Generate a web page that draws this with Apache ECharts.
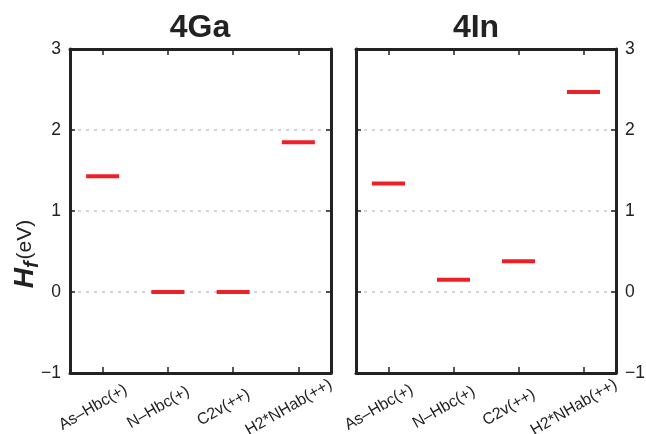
<!DOCTYPE html>
<html>
<head>
<meta charset="utf-8">
<script src="https://cdn.jsdelivr.net/npm/echarts@6/dist/echarts.min.js"></script>
<style>
  html, body { margin: 0; padding: 0; background: #fff; }
  #chart { width: 646px; height: 434px; }
</style>
</head>
<body>
<div id="chart"></div>
<script>
// categories and formation energies (eV)
const categories = ['As\u2013Hbc(+)', 'N\u2013Hbc(+)', 'C2v(++)', 'H2*NHab(++)']
const gaValues = [1.43, 0.0, 0.0, 1.85]
const inValues = [1.34, 0.15, 0.38, 2.47]
const panelTitles = ['4Ga', '4In']
const yMin = -1
const yMax = 3
const yStep = 1

const FONT = '"Liberation Sans", Arial, Helvetica, sans-serif'
const INK = '#222'
const RED = '#ee1f26'

function fmtY (v) {
    return v < 0 ? '\u2212' + Math.abs(v) : String(v)
}

// one y axis; showLabels decides if it carries numbers, grid lines on one side only
function yAxisFor (gridIndex, position, showLabels, showSplit) {
    return {
        type: 'value',
        gridIndex: gridIndex,
        position: position,
        min: yMin,
        max: yMax,
        interval: yStep,
        axisLine: { show: true, onZero: false, lineStyle: { color: INK, width: 3 } },
        axisTick: { show: true, inside: true, length: 5, lineStyle: { color: INK, width: 1.5 } },
        axisLabel: {
            show: showLabels,
            margin: 9,
            fontSize: 17.5,
            fontFamily: FONT,
            color: INK,
            formatter: fmtY
        },
        splitLine: {
            show: showSplit,
            showMinLine: false,
            showMaxLine: false,
            lineStyle: { color: '#c8c8c8', width: 1.5, type: [3, 5] }
        }
    }
}

function xAxisFor (gridIndex, position, showLabels) {
    return {
        type: 'category',
        gridIndex: gridIndex,
        position: position,
        data: categories,
        boundaryGap: true,
        axisLine: { show: true, onZero: false, lineStyle: { color: INK, width: 3 } },
        axisTick: { show: true, inside: true, alignWithLabel: true, length: 6, lineStyle: { color: INK, width: 1.5 } },
        axisLabel: {
            show: showLabels,
            interval: 0,
            rotate: 30,
            align: 'center',
            margin: 29,
            padding: [0, 22, 0, 0],
            fontSize: 16,
            fontFamily: FONT,
            color: INK
        },
        splitLine: { show: false }
    }
}

const chart = echarts.init(document.getElementById('chart'), null, { renderer: 'canvas' })

const option = {
    backgroundColor: '#fff',
    animation: false,
    graphic: [
        { type: 'text', x: 200, y: 28, style: { text: panelTitles[0], font: 'bold 32px ' + FONT, fill: INK, textAlign: 'center', textVerticalAlign: 'middle' } },
        { type: 'text', x: 476, y: 28, style: { text: panelTitles[1], font: 'bold 32px ' + FONT, fill: INK, textAlign: 'center', textVerticalAlign: 'middle' } }
    ],
    grid: [
        { left: 70, top: 49, width: 261, height: 324, show: false, containLabel: false, outerBoundsMode: 'none' },
        { left: 356, top: 49, width: 260, height: 324, show: false, containLabel: false, outerBoundsMode: 'none' }
    ],
    xAxis: [
        xAxisFor(0, 'bottom', true),
        xAxisFor(0, 'top', false),
        xAxisFor(1, 'bottom', true),
        xAxisFor(1, 'top', false)
    ],
    yAxis: [
        Object.assign(yAxisFor(0, 'left', true, true), {
            name: '{h|H}{f|f}{n|(eV)}',
            nameLocation: 'middle',
            nameRotate: 90,
            nameGap: 28,
            nameMoveOverlap: false,
            nameTextStyle: {
                padding: [0, 86, 0, 0],
                rich: {
                    h: { fontSize: 28, fontWeight: 'bold', fontStyle: 'italic', fontFamily: FONT, color: INK },
                    f: { fontSize: 20, fontWeight: 'bold', fontStyle: 'italic', fontFamily: FONT, color: INK, padding: [13, 2, 0, 0] },
                    n: { fontSize: 21, fontFamily: FONT, color: INK }
                }
            }
        }),
        yAxisFor(0, 'right', false, false),
        yAxisFor(1, 'left', false, true),
        yAxisFor(1, 'right', true, false)
    ],
    series: [
        {
            name: '4Ga',
            type: 'scatter',
            xAxisIndex: 0,
            yAxisIndex: 0,
            symbol: 'rect',
            symbolSize: [33, 4],
            itemStyle: { color: RED, opacity: 1 },
            data: gaValues
        },
        {
            name: '4In',
            type: 'scatter',
            xAxisIndex: 2,
            yAxisIndex: 2,
            symbol: 'rect',
            symbolSize: [33, 4],
            itemStyle: { color: RED, opacity: 1 },
            data: inValues
        }
    ]
}

chart.setOption(option)
</script>
</body>
</html>
